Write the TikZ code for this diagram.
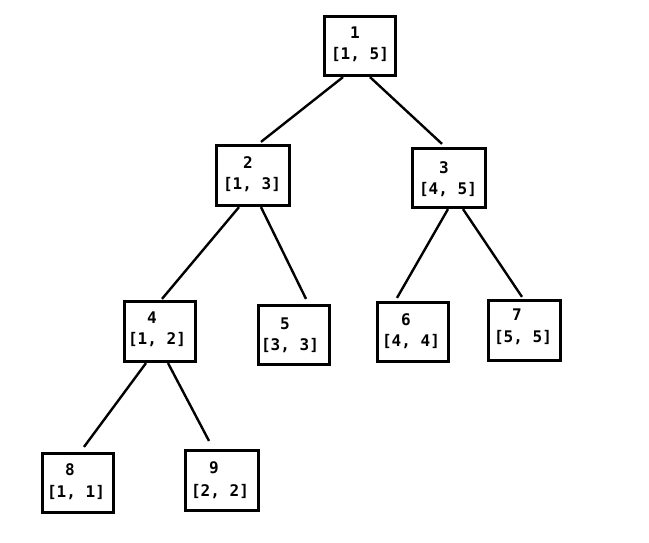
\documentclass[tikz,border=0pt]{standalone}
\usepackage{fontspec}
\setmonofont{DejaVu Sans Mono}
\begin{document}
\begin{tikzpicture}[x=1pt,y=-1pt,
  box/.style={draw=black,line width=3.2pt,inner sep=0pt,minimum width=71pt,minimum height=59pt},
  lbl/.style={inner sep=0pt,font=\fontsize{16}{18}\selectfont\ttfamily\bfseries},
  edge/.style={line width=2.4pt}]
\useasboundingbox[fill=white] (0,0) rectangle (649,543);
\node[box] (n1) at (360,46) {};
\node[box,minimum width=73pt,minimum height=60pt] (n2) at (253,175.5) {};
\node[box,minimum width=73pt] (n3) at (449,178) {};
\node[box,minimum height=60pt] (n4) at (160,331.5) {};
\node[box] (n5) at (294,335) {};
\node[box] (n6) at (413,332) {};
\node[box,minimum width=72pt,minimum height=60pt] (n7) at (524.5,330.5) {};
\node[box] (n8) at (78,483) {};
\node[box,minimum width=73pt,minimum height=60pt] (n9) at (222,480.5) {};
% labels
\node[lbl] (t1a) at (355,33) {1};   \node[lbl] (t1b) at (360,55) {[1, 5]};
\node[lbl] (t2a) at (248,163) {2};  \node[lbl] (t2b) at (252,185) {[1, 3]};
\node[lbl] (t3a) at (444,168) {3};  \node[lbl] (t3b) at (448,190) {[4, 5]};
\node[lbl] (t4a) at (152,318) {4};  \node[lbl] (t4b) at (157,340) {[1, 2]};
\node[lbl] (t5a) at (285,324) {5};  \node[lbl] (t5b) at (290,346) {[3, 3]};
\node[lbl] (t6a) at (406,320) {6};  \node[lbl] (t6b) at (411,342) {[4, 4]};
\node[lbl] (t7a) at (517,315) {7};  \node[lbl] (t7b) at (523,338) {[5, 5]};
\node[lbl] (t8a) at (70,470) {8};   \node[lbl] (t8b) at (76,493) {[1, 1]};
\node[lbl] (t9a) at (214,468) {9};  \node[lbl] (t9b) at (220,492) {[2, 2]};
% connectors
\draw[edge] ([xshift=-17pt]n1.south) -- ([xshift=8pt,yshift=2pt]n2.north);
\draw[edge] ([xshift=10pt]n1.south) -- ([xshift=-7pt,yshift=3pt]n3.north);
\draw[edge] ([xshift=-14pt]n2.south) -- ([xshift=2pt,yshift=1pt]n4.north);
\draw[edge] ([xshift=8pt]n2.south) -- ([xshift=12pt,yshift=5pt]n5.north);
\draw[edge] ([xshift=-1pt]n3.south) -- ([xshift=-16pt,yshift=3pt]n6.north);
\draw[edge] ([xshift=14pt]n3.south) -- ([xshift=-2.5pt,yshift=2pt]n7.north);
\draw[edge] ([xshift=-14pt]n4.south) -- ([xshift=6pt,yshift=5pt]n8.north);
\draw[edge] ([xshift=8pt]n4.south) -- ([xshift=-13pt,yshift=8pt]n9.north);
\end{tikzpicture}
\end{document}
